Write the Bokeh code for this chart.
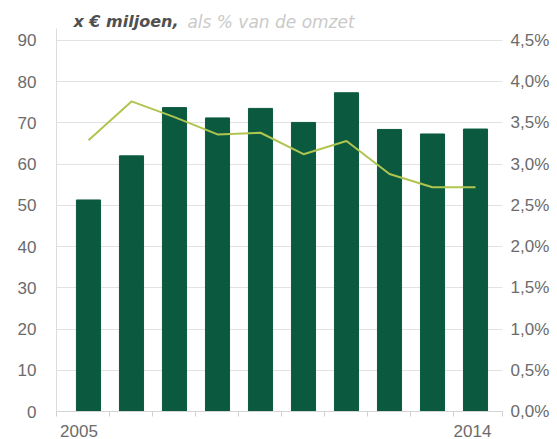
from bokeh.plotting import figure
from bokeh.models import Range1d, LinearAxis, FixedTicker, Label
from bokeh.embed import file_html
from bokeh.resources import INLINE

years = [2005, 2006, 2007, 2008, 2009, 2010, 2011, 2012, 2013, 2014]
costs = [51.3, 62.0, 73.7, 71.2, 73.5, 70.1, 77.3, 68.4, 67.3, 68.5]
pct = [3.29, 3.76, 3.57, 3.36, 3.38, 3.12, 3.28, 2.88, 2.72, 2.72]
left_ticks = [0, 10, 20, 30, 40, 50, 60, 70, 80, 90]
right_ticks = [0.0, 0.5, 1.0, 1.5, 2.0, 2.5, 3.0, 3.5, 4.0, 4.5]
right_labels = ["0,0%", "0,5%", "1,0%", "1,5%", "2,0%", "2,5%", "3,0%", "3,5%", "4,0%", "4,5%"]
x_label_pos = [2004.78, 2013.93]
x_labels = ["2005", "2014"]
title_a = "x € miljoen,"
title_b = "als % van de omzet"

FONT = "Liberation Sans"
TFONT = "DejaVu Sans"
LBL = "#6b6b6b"
GRID = "#e2e2e2"
FS = "17px"

x0, x1 = 2004.256, 2014.628
y_axis_top = 92.9
y1 = 98.7
p = figure(width=557, height=439, output_backend="svg", toolbar_location=None,
           x_range=Range1d(x0, x1), y_range=Range1d(0, y1),
           min_border_left=56, min_border_right=55, min_border_top=4,
           min_border_bottom=27)
p.outline_line_color = None
p.background_fill_color = "white"
p.border_fill_color = "white"

p.extra_y_ranges = {"pct": Range1d(0, y1 / 20)}

p.vbar(x=years, top=costs, width=0.56, color="#0b5a40")
p.line(x=years, y=[v * 20 for v in pct], line_color="#afc54f", line_width=2)

p.xgrid.grid_line_color = None
p.ygrid.grid_line_color = GRID
p.ygrid.ticker = FixedTicker(ticks=left_ticks[1:])

xa = p.xaxis[0]
minor = [y + 0.5 for y in years[:-1]] + [x0, x1]
xa.ticker = FixedTicker(ticks=x_label_pos, minor_ticks=minor)
xa.major_label_overrides = {t: l for t, l in zip(x_label_pos, x_labels)}
xa.axis_line_color = "#d4d4d4"
xa.major_tick_line_color = None
xa.major_tick_out = 0
xa.minor_tick_line_color = "#cfcfcf"
xa.minor_tick_out = 5
xa.minor_tick_in = 0
xa.major_label_standoff = 8
xa.major_label_text_font = FONT
xa.major_label_text_font_size = FS
xa.major_label_text_color = LBL

ya = p.yaxis[0]
ya.ticker = FixedTicker(ticks=left_ticks)
ya.bounds = (0, y_axis_top)
ya.axis_line_color = "#dcdcdc"
ya.major_tick_line_color = None
ya.minor_tick_line_color = None
ya.major_tick_out = 0
ya.major_label_standoff = 20
ya.major_label_text_font = FONT
ya.major_label_text_font_size = FS
ya.major_label_text_color = LBL

ra = LinearAxis(y_range_name="pct", ticker=FixedTicker(ticks=right_ticks))
ra.major_label_overrides = {t: l for t, l in zip(right_ticks, right_labels)}
ra.axis_line_color = None
ra.major_tick_line_color = None
ra.minor_tick_line_color = None
ra.major_tick_out = 0
ra.major_label_standoff = 8
ra.major_label_text_font = FONT
ra.major_label_text_font_size = FS
ra.major_label_text_color = LBL
p.add_layout(ra, "right")

p.add_layout(Label(x=2004.65, y=94.5,
                   text=title_a, text_font=TFONT,
                   text_font_style="bold italic", text_font_size="16px",
                   text_color="#505050", text_baseline="alphabetic"))
p.add_layout(Label(x=2007.30, y=94.5,
                   text=title_b, text_font=TFONT,
                   text_font_style="italic", text_font_size="17px",
                   text_color="#cacaca", text_baseline="alphabetic"))

open("out.html", "w").write(file_html(p, INLINE))
